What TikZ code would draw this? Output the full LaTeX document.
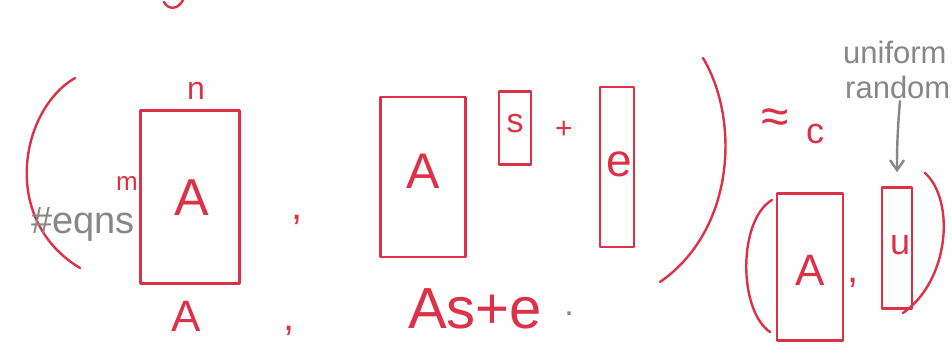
\documentclass[tikz,border=0pt]{standalone}
\usepackage{fontspec}
\setmainfont{Liberation Sans}
\usetikzlibrary{arrows.meta}
\definecolor{pen}{RGB}{220,50,72}
\definecolor{pencil}{RGB}{135,135,135}
\newcommand\fsz[1]{\fontsize{#1}{#1}\selectfont}
\begin{document}
\begin{tikzpicture}[x=1pt,y=-1pt,
  mat/.style={draw=pen, line width=2.6pt, rectangle, inner sep=0pt, line join=round},
  redtxt/.style={text=pen, inner sep=0pt},
  graytxt/.style={text=pencil, inner sep=0pt},
  penline/.style={draw=pen, line width=2.4pt, line cap=round},
  grayline/.style={draw=pencil, line width=2.4pt, line cap=round}]
\clip (0,0) rectangle (952,347);
\fill[white] (0,0) rectangle (952,347);
% top descender fragment
\draw[penline] (164,2) .. controls (168,10) and (178,10) .. (183,0);
% first group
\draw[penline] (75,78) .. controls (20,110) and (0,220) .. (80,268);
\node[mat, minimum width=99pt, minimum height=173pt] (A1) at (190,197) {};
\node[redtxt, font=\fsz{52}] (A1l) at (192,198) {A};
\node[redtxt, font=\fsz{32}] (n) at (196,91) {n};
\node[redtxt, font=\fsz{26}] (m) at (127,184) {m};
\node[graytxt, font=\fsz{38}, anchor=west] (eqns) at (31,224) {\#eqns};
\node[redtxt, font=\fsz{40}] (c1) at (297,220) {,};
\node[redtxt, font=\fsz{44}] (Abot) at (186,316) {A};
\node[redtxt, font=\fsz{40}] (c2) at (289,331) {,};
% second group
\node[mat, minimum width=85pt, minimum height=160pt] (A2) at (423,177) {};
\node[redtxt, font=\fsz{50}] (A2l) at (423,171) {A};
\node[mat, minimum width=32pt, minimum height=73pt] (s) at (515,128) {};
\node[redtxt, font=\fsz{34}] (sl) at (515,124) {s};
\node[redtxt, font=\fsz{30}] (plus) at (564,130) {+};
\node[mat, minimum width=34pt, minimum height=160pt] (e) at (617,167) {};
\node[redtxt, font=\fsz{46}] (el) at (619,164) {e};
\node[redtxt, font=\fsz{58}] (Ase) at (475,309) {As+e};
\node[graytxt, font=\fsz{34}] (dot) at (569,314) {.};
\draw[penline] (703,58) .. controls (740,120) and (735,230) .. (660,282);
% approx c
\node[redtxt, font=\fsz{50}] (approx) at (775,121) {≈};
\node[redtxt, font=\fsz{36}] (csub) at (815,134) {c};
% third group
\draw[penline] (772,200) .. controls (738,220) and (738,310) .. (770,332);
\node[mat, minimum width=66pt, minimum height=147pt] (A3) at (810,267) {};
\node[redtxt, font=\fsz{44}] (A3l) at (810,270) {A};
\node[redtxt, font=\fsz{40}] (c3) at (853,283) {,};
\node[mat, minimum width=30pt, minimum height=121pt] (u) at (897,248) {};
\node[redtxt, font=\fsz{36}] (ul) at (900,245) {u};
\draw[penline] (925,173) .. controls (955,200) and (950,280) .. (903,313);
% uniform random note
\node[graytxt, font=\fsz{31}, anchor=west] (unif) at (843,52) {uniform};
\node[graytxt, font=\fsz{31}, anchor=west] (rand) at (845,87) {random};
\draw[grayline, -{Straight Barb[length=10pt,width=14pt]}] (900,101) to[out=265,in=90] (u.north) [shorten >=14pt];
\end{tikzpicture}
\end{document}
